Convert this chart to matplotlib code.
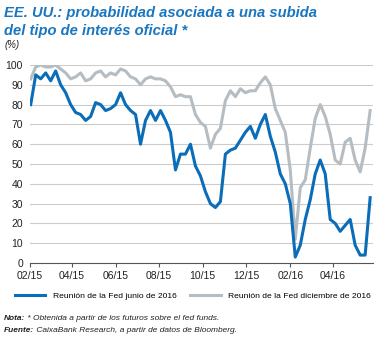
import pandas as pd
import matplotlib
matplotlib.use('Agg')
import matplotlib.pyplot as plt
import matplotlib.dates as mdates
from matplotlib import font_manager

names = {f.name for f in font_manager.fontManager.ttflist}
FONT = 'Liberation Sans Narrow' if 'Liberation Sans Narrow' in names else 'Liberation Sans'
plt.rcParams['font.family'] = [FONT, 'DejaVu Sans']

# weekly readings, Feb 2015 - May 2016
dates = pd.date_range('2015-02-02', periods=69, freq='7D')
june_2016 = [80, 95, 93, 96, 92, 97, 90, 86, 80, 76,
             75, 72, 74, 81, 80, 77, 78, 80, 86, 80,
             77, 75, 60, 72, 77, 72, 77, 72, 66, 47,
             55, 55, 60, 49, 44, 36, 30, 28, 31, 55,
             57, 58, 62, 66, 69, 63, 70, 75, 64, 56,
             45, 40, 30, 3, 9, 22, 32, 45, 52, 45,
             22, 20, 16, 19, 22, 9, 4, 4, 33]
dec_2016 = [93, 99, 100, 99, 99, 100, 98, 96, 93, 94,
            96, 92, 93, 96, 97, 94, 96, 95, 98, 97,
            94, 93, 90, 93, 94, 93, 93, 92, 89, 84,
            85, 84, 84, 75, 71, 69, 58, 65, 68, 82,
            87, 84, 88, 86, 87, 87, 91, 94, 90, 78,
            72, 66, 47, 12, 38, 42, 58, 73, 80, 74,
            65, 52, 50, 61, 63, 52, 46, 58, 77]
yticks = list(range(0, 101, 10))

BLUE = '#0b6db7'
GREY = '#b5bdc2'
TITLE_BLUE = '#1a76bf'
W, H = 376, 338

fig = plt.figure(figsize=(W / 100, H / 100), dpi=100)
ax = fig.add_axes([30 / W, 1 - 263 / H, 343 / W, 198 / H])

ax.plot(dates, dec_2016, color=GREY, lw=2.2, label='Reunión de la Fed diciembre de 2016')
ax.plot(dates, june_2016, color=BLUE, lw=2.2, label='Reunión de la Fed junio de 2016')

ax.set_ylim(0, 100)
ax.set_xlim(pd.Timestamp('2015-02-01'), pd.Timestamp('2016-05-27'))
ax.set_yticks(yticks)
ax.xaxis.set_major_locator(mdates.MonthLocator(bymonth=[2, 4, 6, 8, 10, 12]))
ax.xaxis.set_major_formatter(mdates.DateFormatter('%m/%y'))
for y in yticks[1:]:
    ax.axhline(y, color='#cccccc', lw=0.8, zorder=0)
for s in ['top', 'right', 'left']:
    ax.spines[s].set_visible(False)
ax.spines['bottom'].set_color('#555555')
ax.spines['bottom'].set_linewidth(0.8)
ax.tick_params(axis='y', length=0, pad=5, labelsize=7.5, labelcolor='#222222')
ax.tick_params(axis='x', length=3, width=0.8, color='#555555', pad=3,
               labelsize=7.5, labelcolor='#222222')

# titles
fig.text(4 / W, 1 - 17 / H, 'EE. UU.: probabilidad asociada a una subida', fontsize=10.6,
         fontweight='bold', style='italic', color=TITLE_BLUE, va='baseline')
fig.text(4 / W, 1 - 35 / H, 'del tipo de interés oficial *', fontsize=10.6,
         fontweight='bold', style='italic', color=TITLE_BLUE, va='baseline')
fig.text(5 / W, 1 - 45 / H, '(%)', fontsize=7, style='italic', color='#222222', va='center')

h, l = ax.get_legend_handles_labels()
fig.legend(h[::-1], l[::-1], loc='center', bbox_to_anchor=(193 / W, 1 - 296 / H), ncol=2,
           frameon=False, fontsize=6.1, handlelength=3.6, handletextpad=0.9,
           columnspacing=1.6)

# notes
fig.canvas.draw()
r = fig.canvas.get_renderer()
for yy, bold, rest in [(318, 'Nota:', ' * Obtenida a partir de los futuros sobre el fed funds.'),
                       (331, 'Fuente:', ' CaixaBank Research, a partir de datos de Bloomberg.')]:
    t = fig.text(4 / W, 1 - yy / H, bold, fontsize=6, fontweight='bold', style='italic',
                 color='#222222', va='center')
    bb = t.get_window_extent(r)
    fig.text(bb.x1 / W, 1 - yy / H, rest, fontsize=6, style='italic', color='#222222',
             va='center')

fig.savefig('out.png', dpi=100)
